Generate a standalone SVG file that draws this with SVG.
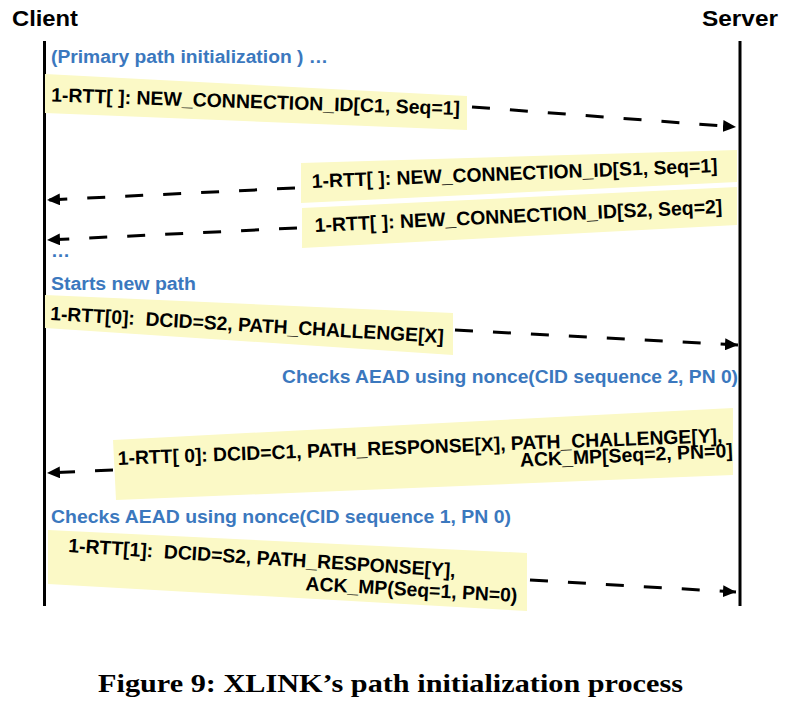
<svg xmlns="http://www.w3.org/2000/svg" width="798" height="712" viewBox="0 0 798 712">
<style>
.actor{font-family:"Liberation Sans",Arial,sans-serif;font-weight:bold;font-size:22px;fill:#000}
.life{stroke:#000;stroke-width:3;fill:none}
.note{font-family:"Liberation Sans",Arial,sans-serif;font-weight:bold;font-size:18px;fill:#3b78be}
.msg{font-family:"Liberation Sans",Arial,sans-serif;font-weight:bold;font-size:19.5px;fill:#000}
.box{fill:#fbf9c6;stroke:none}
.arr{stroke:#000;stroke-width:3;fill:none;stroke-dasharray:18 20;marker-end:url(#ah)}
.cap{font-family:"Liberation Serif","Times New Roman",serif;font-weight:bold;font-size:26px;fill:#000}
</style>
<defs>
<marker id="ah" markerUnits="userSpaceOnUse" markerWidth="14" markerHeight="12" refX="13" refY="6" orient="auto">
<path d="M0,0 L13,6 L0,12 z" fill="#000"/>
</marker>
</defs>
<rect width="798" height="712" fill="#fff"/>

<g id="client">
<text class="actor" x="12" y="26" textLength="66" lengthAdjust="spacingAndGlyphs">Client</text>
<line class="life" x1="44.5" y1="41" x2="44.5" y2="606"/>
</g>
<g id="server">
<text class="actor" x="702" y="26" textLength="76" lengthAdjust="spacingAndGlyphs">Server</text>
<line class="life" x1="740" y1="41" x2="740" y2="606"/>
</g>

<g id="notes">
<text class="note" x="51" y="63" textLength="277" lengthAdjust="spacingAndGlyphs">(Primary path initialization ) …</text>
<text class="note" x="51" y="257" textLength="19" lengthAdjust="spacingAndGlyphs">…</text>
<text class="note" x="51" y="290" textLength="145" lengthAdjust="spacingAndGlyphs">Starts new path</text>
<text class="note" x="282" y="383" textLength="456" lengthAdjust="spacingAndGlyphs">Checks AEAD using nonce(CID sequence 2, PN 0)</text>
<text class="note" x="51" y="523" textLength="460" lengthAdjust="spacingAndGlyphs">Checks AEAD using nonce(CID sequence 1, PN 0)</text>
</g>

<g id="msg1">
<polygon class="box" points="45,74 467,96 467,130 45,113"/>
<text class="msg" x="51" y="101.5" transform="rotate(1.9 51 101.5)" textLength="409" lengthAdjust="spacingAndGlyphs">1-RTT[ ]: NEW_CONNECTION_ID[C1, Seq=1]</text>
</g>
<g id="msg2">
<polygon class="box" points="301,163 737,150 737,182 301,203"/>
<text class="msg" x="312" y="188" transform="rotate(-2.26 312 188)" textLength="406" lengthAdjust="spacingAndGlyphs">1-RTT[ ]: NEW_CONNECTION_ID[S1, Seq=1]</text>
</g>
<g id="msg3">
<polygon class="box" points="302,208 737,187 737,225 302,248"/>
<text class="msg" x="315" y="232" transform="rotate(-2.67 315 232)" textLength="408" lengthAdjust="spacingAndGlyphs">1-RTT[ ]: NEW_CONNECTION_ID[S2, Seq=2]</text>
</g>
<g id="msg4">
<polygon class="box" points="45,295 453,313 453,355 45,328"/>
<text class="msg" x="50" y="320" transform="rotate(3.35 50 320)" textLength="394" lengthAdjust="spacingAndGlyphs">1-RTT[0]:&#160; DCID=S2, PATH_CHALLENGE[X]</text>
</g>
<g id="msg5">
<polygon class="box" points="113,440 733,408 733,475 116,500"/>
<text class="msg" x="118" y="465" transform="rotate(-2.18 118 465)" textLength="605" lengthAdjust="spacingAndGlyphs">1-RTT[ 0]: DCID=C1, PATH_RESPONSE[X], PATH_CHALLENGE[Y],</text>
<text class="msg" x="733" y="457" text-anchor="end" transform="rotate(-2.6 733 457)" textLength="213" lengthAdjust="spacingAndGlyphs">ACK_MP[Seq=2, PN=0]</text>
</g>
<g id="msg6">
<polygon class="box" points="48,530 527,553 527,611 48,584"/>
<text class="msg" x="68" y="552" transform="rotate(3.7 68 552)" textLength="388" lengthAdjust="spacingAndGlyphs">1-RTT[1]:&#160; DCID=S2, PATH_RESPONSE[Y],</text>
<text class="msg" x="517" y="602" text-anchor="end" transform="rotate(3.2 517 602)" textLength="212" lengthAdjust="spacingAndGlyphs">ACK_MP(Seq=1, PN=0)</text>
</g>

<g id="connectors">
<line class="arr" x1="472" y1="107" x2="736" y2="127"/>
<line class="arr" x1="295" y1="188" x2="47" y2="200"/>
<line class="arr" x1="297" y1="228" x2="47" y2="240"/>
<line class="arr" x1="455" y1="330" x2="738" y2="345"/>
<line class="arr" x1="113" y1="470" x2="47" y2="473"/>
<line class="arr" x1="530" y1="580" x2="736" y2="592"/>
</g>

<text class="cap" x="98" y="692" textLength="585" lengthAdjust="spacingAndGlyphs">Figure 9: XLINK’s path initialization process</text>
</svg>
